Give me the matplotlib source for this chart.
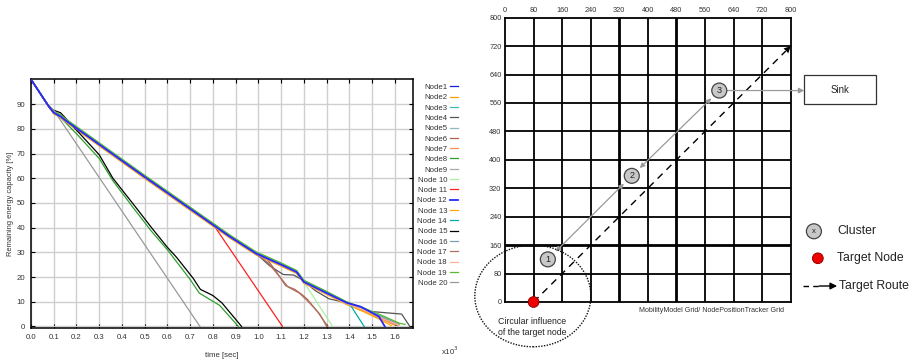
import matplotlib
matplotlib.use("Agg")
import matplotlib.pyplot as plt
from matplotlib.patches import Ellipse, Circle, Rectangle

plt.rcParams['font.family'] = ['Liberation Sans', 'DejaVu Sans']

# ---------------- Left chart data ----------------
node_labels = ["Node1", "Node2", "Node3", "Node4", "Node5", "Node6", "Node7", "Node8", "Node9",
               "Node 10", "Node 11", "Node 12", "Node 13", "Node 14", "Node 15", "Node 16",
               "Node 17", "Node 18", "Node 19", "Node 20"]
node_colors = ["#1a1ad6", "#f5a000", "#3cbcb4", "#555555", "#8fb8c0", "#b06050", "#ff8c50",
               "#2ca02c", "#aaaaaa", "#a8f0a0", "#ff2020", "#2828ff", "#ffaa00", "#00aaaa",
               "#000000", "#7aa0b0", "#b07060", "#ffb090", "#55bb33", "#999999"]

t_node1 = [0, 0.075, 0.1, 0.13, 0.15, 0.5, 0.875, 0.99, 1.1, 1.168, 1.2, 1.3, 1.39, 1.46, 1.54, 1.61]
v_node1 = [100, 89.5, 86.5, 85.0, 83.5, 60.5, 36.3, 29.5, 25.0, 22.0, 18.0, 13.5, 9.3, 7.0, 3.5, 0.4]
t_node2 = [0, 0.075, 0.1, 0.13, 0.15, 0.5, 0.875, 0.99, 1.1, 1.168, 1.2, 1.3, 1.39, 1.46, 1.53, 1.6, 1.615]
v_node2 = [100, 89.5, 86.3, 84.6, 83.0, 59.9, 35.8, 29.0, 24.4, 21.5, 17.6, 13.0, 8.9, 6.6, 3.6, 0.8, 0.5]
t_node3 = [0, 0.075, 0.1, 0.13, 0.15, 0.5, 0.875, 0.99, 1.1, 1.168, 1.2, 1.3, 1.39, 1.46, 1.54, 1.6]
v_node3 = [100, 89.5, 86.6, 85.2, 83.8, 60.8, 36.6, 29.8, 25.3, 22.3, 18.3, 13.8, 9.5, 7.2, 4.0, 1.0]
t_node4 = [0, 0.075, 0.1, 0.13, 0.15, 0.5, 0.875, 0.99, 1.05, 1.11, 1.155, 1.19, 1.25, 1.31, 1.395, 1.45, 1.5, 1.63, 1.666]
v_node4 = [100, 89.5, 86.5, 85.0, 83.5, 60.5, 36.3, 29.5, 24.5, 21.0, 20.8, 19.0, 14.5, 11.2, 9.4, 6.5, 6.0, 5.0, 0]
t_node5 = [0, 0.075, 0.1, 0.13, 0.15, 0.5, 0.875, 0.99, 1.1, 1.168, 1.2, 1.3, 1.39, 1.46, 1.55, 1.615]
v_node5 = [100, 89.5, 86.8, 85.4, 84.0, 61.0, 36.8, 30.0, 25.5, 22.4, 18.5, 14.0, 9.7, 7.3, 3.6, 0.6]
t_node6 = [0, 0.075, 0.1, 0.13, 0.15, 0.5, 0.875, 0.99, 1.04, 1.08, 1.12, 1.16, 1.19, 1.215, 1.26, 1.305]
v_node6 = [100, 89.5, 86.5, 85.0, 83.5, 60.5, 36.3, 29.5, 27.0, 22.0, 16.5, 15.0, 13.0, 11.0, 6.0, 0]
t_node7 = [0, 0.075, 0.1, 0.13, 0.15, 0.5, 0.875, 0.99, 1.1, 1.168, 1.2, 1.3, 1.39, 1.45, 1.54, 1.6]
v_node7 = [100, 89.5, 86.2, 84.7, 83.2, 60.2, 36.0, 29.2, 24.7, 21.7, 17.7, 13.2, 9.0, 6.8, 3.0, 0.5]
t_node8 = [0, 0.075, 0.1, 0.12, 0.2, 0.3, 0.36, 0.45, 0.53, 0.6, 0.7, 0.74, 0.83, 0.912]
v_node8 = [100, 89.5, 87.5, 85.5, 78.0, 68.0, 59.0, 48.0, 38.5, 31.0, 19.0, 13.5, 8.5, 0]
t_node9 = [0, 0.075, 0.1, 0.13, 0.15, 0.5, 0.875, 0.99, 1.1, 1.168, 1.2, 1.3, 1.39, 1.46, 1.55, 1.62]
v_node9 = [100, 89.5, 86.7, 85.2, 83.7, 60.7, 36.5, 29.7, 25.2, 22.2, 18.2, 13.7, 9.4, 7.0, 3.5, 0.8]
t_node10 = [0, 0.075, 0.1, 0.13, 0.15, 0.5, 0.875, 0.99, 1.1, 1.168, 1.2, 1.326]
v_node10 = [100, 89.5, 86.5, 85.0, 83.5, 60.5, 36.3, 29.5, 25.0, 22.0, 18.0, 0]
t_node11 = [0, 0.075, 0.1, 0.13, 0.15, 0.5, 0.8, 1.106]
v_node11 = [100, 89.5, 86.5, 85.0, 83.5, 60.5, 41.5, 0]
t_node12 = [0, 0.075, 0.1, 0.13, 0.15, 0.5, 0.875, 0.99, 1.1, 1.168, 1.2, 1.3, 1.39, 1.45, 1.53, 1.556]
v_node12 = [100, 89.5, 86.5, 85.0, 83.5, 60.5, 36.3, 29.5, 25.0, 22.0, 18.0, 13.5, 9.5, 8.0, 4.0, 0]
t_node13 = [0, 0.075, 0.1, 0.13, 0.15, 0.5, 0.875, 0.99, 1.1, 1.168, 1.2, 1.3, 1.39, 1.45, 1.53, 1.585]
v_node13 = [100, 89.5, 86.0, 84.5, 83.0, 60.0, 35.8, 29.0, 24.5, 21.5, 17.5, 13.0, 8.8, 6.5, 3.0, 0.3]
t_node14 = [0, 0.075, 0.1, 0.13, 0.15, 0.5, 0.875, 0.99, 1.1, 1.168, 1.2, 1.3, 1.4, 1.465]
v_node14 = [100, 89.5, 86.5, 85.0, 83.5, 60.5, 36.3, 29.5, 25.0, 22.0, 18.0, 13.5, 9.3, 0]
t_node15 = [0, 0.075, 0.085, 0.13, 0.165, 0.2, 0.3, 0.36, 0.45, 0.53, 0.6, 0.64, 0.713, 0.745, 0.8, 0.84, 0.926]
v_node15 = [100, 89.5, 88.0, 86.5, 83.0, 79.5, 69.5, 60.0, 49.5, 40.0, 32.0, 28.0, 19.5, 15.0, 12.5, 9.5, 0]
t_node16 = [0, 0.075, 0.1, 0.13, 0.15, 0.5, 0.875, 0.99, 1.1, 1.168, 1.2, 1.3, 1.39, 1.45, 1.54, 1.62]
v_node16 = [100, 89.5, 86.9, 85.4, 83.9, 60.9, 36.7, 29.9, 25.4, 22.4, 18.4, 13.9, 9.6, 7.5, 4.0, 1.0]
t_node17 = [0, 0.075, 0.1, 0.13, 0.15, 0.5, 0.875, 0.99, 1.04, 1.09, 1.13, 1.18, 1.22, 1.27, 1.3]
v_node17 = [100, 89.5, 86.5, 85.0, 83.5, 60.5, 36.3, 29.3, 26.0, 20.5, 16.0, 13.5, 10.0, 5.0, 0]
t_node18 = [0, 0.075, 0.1, 0.13, 0.15, 0.5, 0.875, 0.99, 1.1, 1.168, 1.2, 1.3, 1.39, 1.46, 1.55, 1.62]
v_node18 = [100, 89.5, 86.3, 84.8, 83.3, 60.3, 36.1, 29.3, 24.8, 21.8, 17.8, 13.3, 9.1, 6.8, 3.0, 0.5]
t_node19 = [0, 0.075, 0.1, 0.13, 0.15, 0.5, 0.875, 0.99, 1.1, 1.168, 1.2, 1.3, 1.39, 1.46, 1.55, 1.62, 1.645]
v_node19 = [100, 89.5, 87.2, 85.7, 84.2, 61.2, 37.0, 30.2, 25.7, 22.7, 18.7, 14.2, 9.9, 7.6, 4.2, 1.3, 0.8]
t_node20 = [0, 0.075, 0.1, 0.743]
v_node20 = [100, 89.5, 87.5, 0]

node_t = [t_node1, t_node2, t_node3, t_node4, t_node5, t_node6, t_node7, t_node8, t_node9, t_node10,
          t_node11, t_node12, t_node13, t_node14, t_node15, t_node16, t_node17, t_node18, t_node19, t_node20]
node_v = [v_node1, v_node2, v_node3, v_node4, v_node5, v_node6, v_node7, v_node8, v_node9, v_node10,
          v_node11, v_node12, v_node13, v_node14, v_node15, v_node16, v_node17, v_node18, v_node19, v_node20]

x_tick_values = [0.0, 0.1, 0.2, 0.3, 0.4, 0.5, 0.6, 0.7, 0.8, 0.9, 1.0, 1.1, 1.2, 1.3, 1.4, 1.5, 1.6]
y_tick_values = [0, 10, 20, 30, 40, 50, 60, 70, 80, 90]

# ---------------- Right diagram data ----------------
grid_ticks = [0, 80, 160, 240, 320, 400, 480, 560, 640, 720, 800]
cluster_ids = ["1", "2", "3"]
cluster_x = [120, 355, 600]
cluster_y = [120, 355, 595]
target_node = (80, 0)
route_end = (800, 720)

fig = plt.figure(figsize=(9.12, 3.6), dpi=100)

# ================= Left chart =================
ax1 = fig.add_axes([31 / 912, 1 - 328.4 / 360, 382 / 912, 249 / 360])
for i in range(20):
    z = 5 if i == 11 else 2
    lw = 1.3 if i == 11 else 0.9
    ax1.plot(node_t[i], node_v[i], color=node_colors[i], lw=lw, label=node_labels[i], zorder=z)
ax1.set_xlim(0, 1.68)
ax1.set_ylim(-0.8, 100)
ax1.set_xticks(x_tick_values)
ax1.set_xticklabels([f"{v:.1f}" for v in x_tick_values])
ax1.set_yticks(y_tick_values)
ax1.grid(True, color="#cfcfcf", lw=1.0, zorder=0)
ax1.set_axisbelow(True)
ax1.tick_params(direction="in", top=True, right=True, length=3, width=0.8,
                labelsize=5.6, labelcolor="#333333", pad=4)
for s in ax1.spines.values():
    s.set_linewidth(1.1)
ax1.set_xlabel("time [sec]", fontsize=5.6, color="#333333")
ax1.xaxis.set_label_coords(0.5, -0.095)
ax1.set_ylabel("Remaining energy capacity [%]", fontsize=5.4, color="#333333")
ax1.yaxis.set_label_coords(-0.045, 0.5)
fig.text(450 / 912, 1 - 351 / 360, r"x10$^3$", fontsize=5.6, color="#333333", ha="center", va="center")

ax1.legend(loc="upper right", bbox_to_anchor=(458 / 912, 1 - 83.5 / 360), bbox_transform=fig.transFigure,
           markerfirst=False, frameon=False, fontsize=5.6, handlelength=1.0, handletextpad=0.4,
           labelspacing=0.37, borderaxespad=0, borderpad=0, labelcolor="#333333")

# ================= Right diagram =================
ax2 = fig.add_axes([505 / 912, 1 - 302 / 360, 285.7 / 912, 284.3 / 360])
ax2.set_xlim(0, 800)
ax2.set_ylim(0, 800)
ax2.set_xticks(grid_ticks)
ax2.set_yticks(grid_ticks)
ax2.xaxis.tick_top()
ax2.tick_params(length=0, labelsize=5.3, labelcolor="#333333", pad=2.5)
for s in ax2.spines.values():
    s.set_linewidth(1.3)
for g in grid_ticks[1:-1]:
    ax2.axvline(g, color="black", lw=2.0 if g in (320, 480) else 1.3, zorder=1)
    ax2.axhline(g, color="black", lw=2.0 if g == 160 else 1.3, zorder=1)

# dashed target route
ax2.plot([target_node[0], route_end[0] - 14], [target_node[1], route_end[1] - 14],
         color="black", lw=1.0, ls=(0, (5, 4)), zorder=3)
ax2.annotate("", xy=route_end, xytext=(route_end[0] - 40, route_end[1] - 40),
             arrowprops=dict(arrowstyle="-|>", color="black", lw=0.01, mutation_scale=12, shrinkA=0, shrinkB=0),
             zorder=4)

# gray cluster links
gray = "#999999"
for a, b in [(0, 1), (1, 2)]:
    ax2.annotate("", xy=(cluster_x[b], cluster_y[b]), xytext=(cluster_x[a], cluster_y[a]),
                 arrowprops=dict(arrowstyle="<|-|>", color=gray, lw=0.9, mutation_scale=7,
                                 shrinkA=8, shrinkB=8), zorder=3)
# cluster -> sink
ax2.annotate("", xy=(838, cluster_y[2]), xytext=(cluster_x[2] + 21, cluster_y[2]),
             arrowprops=dict(arrowstyle="-|>", color=gray, lw=0.9, mutation_scale=8,
                             shrinkA=0, shrinkB=0), annotation_clip=False, zorder=3)
ax2.add_patch(Rectangle((838, 556), 201, 82, facecolor="white", edgecolor="#333333", lw=0.9, clip_on=False))
ax2.text(938, 597, "Sink", fontsize=6.9, ha="center", va="center", color="#222222")

# clusters
for cid, cx, cy in zip(cluster_ids, cluster_x, cluster_y):
    ax2.add_patch(Circle((cx, cy), 21, facecolor="#c8c8c8", edgecolor="#444444", lw=0.9, zorder=5))
    ax2.text(cx, cy, cid, fontsize=6.5, ha="center", va="center", color="#222222", zorder=6)

# target node
ax2.add_patch(Circle(target_node, 15, facecolor="#ee0000", edgecolor="#990000", lw=0.7, zorder=6, clip_on=False))
# circular influence
ax2.add_patch(Ellipse((78, 17), 325, 286, facecolor="none", edgecolor="#111111", lw=1.0,
                      ls=(0, (1.0, 1.0)), clip_on=False, zorder=4))
ax2.text(76, -70, "Circular influence\nof the target node", fontsize=6.3, ha="center", va="center",
         color="#222222", linespacing=1.35)
ax2.text(780, -24, "MobilityModel Grid/ NodePositionTracker Grid", fontsize=5.1, ha="right", va="center",
         color="#333333")

# legend of the diagram
ax2.add_patch(Circle((865, 199), 21, facecolor="#c8c8c8", edgecolor="#444444", lw=0.9, clip_on=False))
ax2.text(865, 199, "x", fontsize=5.5, ha="center", va="center", color="#222222")
ax2.text(930, 199, "Cluster", fontsize=8.8, ha="left", va="center", color="#222222")
ax2.add_patch(Circle((876, 123), 15, facecolor="#ee0000", edgecolor="#990000", lw=0.7, clip_on=False))
ax2.text(930, 123, "Target Node", fontsize=8.8, ha="left", va="center", color="#222222")
ax2.plot([834, 880], [45, 45], color="black", lw=1.0, ls=(0, (4, 3)), clip_on=False)
ax2.annotate("", xy=(930, 45), xytext=(880, 45),
             arrowprops=dict(arrowstyle="-|>", color="black", lw=1.0, mutation_scale=10, shrinkA=0, shrinkB=0),
             annotation_clip=False)
ax2.text(934, 45, "Target Route", fontsize=8.8, ha="left", va="center", color="#222222")

fig.savefig("out.png", dpi=100)
